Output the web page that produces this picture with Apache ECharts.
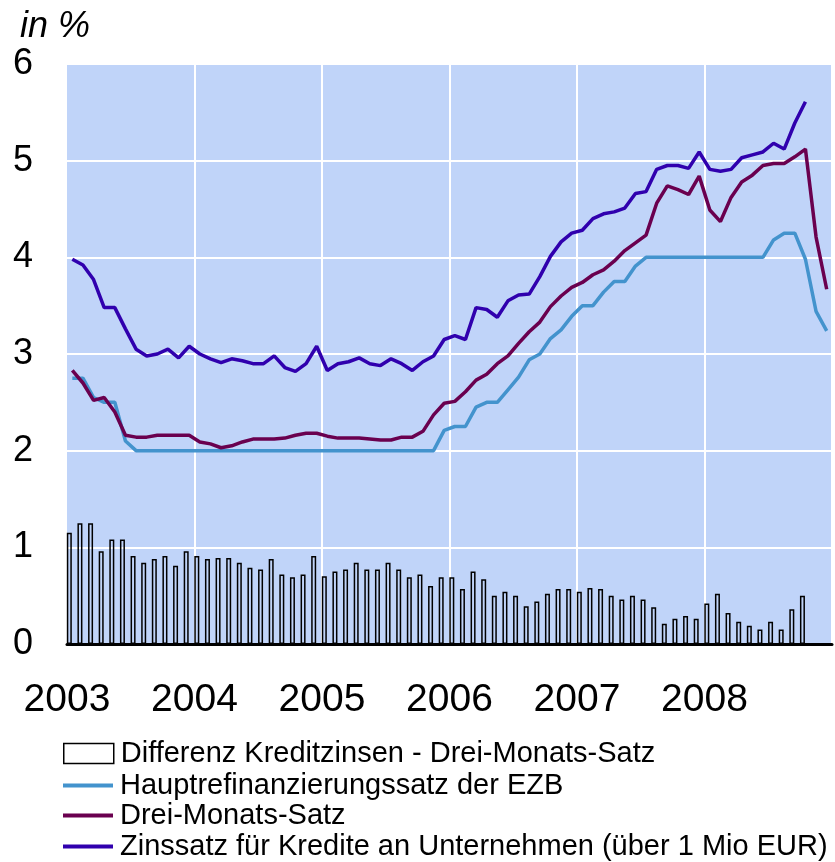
<!DOCTYPE html>
<html>
<head>
<meta charset="utf-8">
<script src="https://cdn.jsdelivr.net/npm/echarts@6/dist/echarts.min.js"></script>
<style>
  html, body { margin: 0; padding: 0; background: #fff; }
  #chart { width: 835px; height: 862px; }
</style>
</head>
<body>
<div id="chart"></div>
<script>
// Monatswerte Jan 2003 - Dez 2008
var years = ['2003', '2004', '2005', '2006', '2007', '2008'];
var yTicks = ['0', '1', '2', '3', '4', '5', '6'];

// Differenz Kreditzinsen - Drei-Monats-Satz (bis Okt 2008)
var spread = [1.15, 1.25, 1.25, 0.96, 1.08, 1.08, 0.91, 0.84, 0.88, 0.91, 0.81, 0.96,
    0.91, 0.88, 0.89, 0.89, 0.84, 0.79, 0.77, 0.88, 0.72, 0.69, 0.72, 0.91,
    0.70, 0.75, 0.77, 0.84, 0.77, 0.77, 0.84, 0.77, 0.69, 0.72, 0.60, 0.69,
    0.69, 0.57, 0.75, 0.67, 0.50, 0.54, 0.50, 0.39, 0.44, 0.52, 0.57, 0.57,
    0.54, 0.58, 0.57, 0.50, 0.46, 0.50, 0.46, 0.38, 0.21, 0.26, 0.29, 0.26,
    0.42, 0.52, 0.32, 0.23, 0.19, 0.15, 0.23, 0.15, 0.36, 0.50];

// Hauptrefinanzierungssatz der EZB
var ecbRate = [2.75, 2.75, 2.55, 2.50, 2.50, 2.10,
    2.00, 2.00, 2.00, 2.00, 2.00, 2.00, 2.00, 2.00, 2.00, 2.00, 2.00, 2.00,
    2.00, 2.00, 2.00, 2.00, 2.00, 2.00, 2.00, 2.00, 2.00, 2.00, 2.00, 2.00,
    2.00, 2.00, 2.00, 2.00, 2.00,
    2.21, 2.25, 2.25, 2.45, 2.50, 2.50, 2.63, 2.76, 2.94, 3.00, 3.16, 3.25,
    3.39, 3.50, 3.50, 3.64, 3.75, 3.75, 3.91,
    4.00, 4.00, 4.00, 4.00, 4.00, 4.00, 4.00, 4.00, 4.00, 4.00, 4.00, 4.00,
    4.18, 4.25, 4.25, 3.98, 3.44, 3.24];

// Drei-Monats-Satz
var threeMonth = [2.83, 2.70, 2.52, 2.55, 2.40, 2.16, 2.14, 2.14, 2.16, 2.16, 2.16, 2.16,
    2.09, 2.07, 2.03, 2.05, 2.09, 2.12,
    2.12, 2.12, 2.13, 2.16, 2.18, 2.18, 2.15, 2.13, 2.13, 2.13, 2.12, 2.11,
    2.11, 2.14, 2.14, 2.20, 2.37, 2.49, 2.51, 2.61,
    2.73, 2.79, 2.90, 2.98, 3.11, 3.23, 3.33, 3.49, 3.60, 3.69, 3.74, 3.82,
    3.87, 3.96, 4.07, 4.15,
    4.23, 4.56, 4.74, 4.70, 4.65, 4.84, 4.49, 4.37, 4.62, 4.78, 4.85, 4.95,
    4.97, 4.97, 5.04, 5.12, 4.21, 3.67];

// Zinssatz für Kredite an Unternehmen (über 1 Mio EUR), bis Okt 2008
var loanRate = [3.98, 3.92, 3.77, 3.48, 3.48, 3.26, 3.05, 2.98, 3.00, 3.05, 2.96, 3.08,
    3.00, 2.95, 2.91, 2.95, 2.93, 2.90,
    2.90, 2.98, 2.86, 2.82, 2.90, 3.08, 2.83, 2.90, 2.92, 2.96, 2.90, 2.88,
    2.95, 2.90, 2.83, 2.92, 2.98, 3.15, 3.19, 3.15,
    3.48, 3.46, 3.38, 3.55, 3.61, 3.62, 3.80, 4.01, 4.16, 4.25, 4.28, 4.40,
    4.45, 4.47, 4.51, 4.66,
    4.68, 4.91, 4.95, 4.95, 4.92, 5.09, 4.91, 4.89, 4.91, 5.03, 5.06, 5.09,
    5.18, 5.12, 5.39, 5.61];

var months = [];
for (var y = 0; y < years.length; y++) {
    for (var m = 1; m <= 12; m++) {
        months.push(years[y] + '-' + (m < 10 ? '0' + m : m));
    }
}

var FONT = 'Liberation Sans, Arial, sans-serif';
var names = ['Differenz Kreditzinsen - Drei-Monats-Satz', 'Hauptrefinanzierungssatz der EZB',
    'Drei-Monats-Satz', 'Zinssatz für Kredite an Unternehmen (über 1 Mio EUR)'];
var colors = ['#4393CD', '#6A004F', '#3000AE'];

// eine Legende pro Zeile, damit nichts umbricht
function legendRow(top, item, iconHeight) {
    return {
        left: 58,
        top: top,
        itemWidth: 50,
        itemHeight: iconHeight,
        icon: 'rect',
        selectedMode: false,
        textStyle: {fontFamily: FONT, fontSize: 29, lineHeight: 29, color: '#000', padding: [0, 0, 0, 2]},
        data: [item]
    };
}

var chart = echarts.init(document.getElementById('chart'));
var option = {
    animation: false,
    title: {
        text: 'in %',
        left: 15,
        top: 4,
        textStyle: {fontFamily: FONT, fontSize: 36, fontStyle: 'italic', fontWeight: 'normal', color: '#000'}
    },
    grid: {
        left: 67,
        top: 64,
        width: 774,
        height: 580,
        show: true,
        backgroundColor: '#C0D4F9',
        borderWidth: 0
    },
    legend: [
        legendRow(734, {name: names[0], itemStyle: {color: '#fff', borderColor: '#000', borderWidth: 1.5}}, 20),
        legendRow(766, names[1], 4),
        legendRow(796, names[2], 4),
        legendRow(827, names[3], 4)
    ],
    xAxis: [{
        // Monatskategorien (für die Daten)
        type: 'category',
        position: 'top',
        data: months,
        boundaryGap: true,
        axisLine: {show: false},
        axisTick: {show: false},
        axisLabel: {show: false},
        splitLine: {show: false}
    }, {
        // Jahresachse mit Gitterlinien
        type: 'value',
        position: 'bottom',
        min: 0,
        max: 72,
        interval: 12,
        axisLine: {show: true, lineStyle: {color: '#000', width: 3}},
        axisTick: {show: false},
        axisLabel: {
            fontFamily: FONT, fontSize: 39, color: '#000', margin: 37,
            formatter: function (v) {
                return years[v / 12] || '';
            }
        },
        splitLine: {show: true, showMinLine: false, lineStyle: {color: '#fff', width: 2}}
    }],
    yAxis: {
        type: 'value',
        min: 0,
        max: 6,
        interval: 1,
        axisLine: {show: false},
        axisTick: {show: false},
        axisLabel: {
            fontFamily: FONT, fontSize: 36, color: '#000', margin: 34,
            formatter: function (v) {
                return yTicks[v];
            }
        },
        splitLine: {show: true, lineStyle: {color: '#fff', width: 2}}
    },
    series: [{
        name: names[0],
        type: 'bar',
        xAxisIndex: 0,
        barWidth: 5,
        barGap: '20%',
        itemStyle: {color: 'rgba(0,0,0,0)', borderColor: '#000', borderWidth: 1.5},
        data: spread
    }, {
        // Platzhalter, damit die Säulen leicht links der Monatsmitte stehen
        name: 'placeholder',
        type: 'bar',
        xAxisIndex: 0,
        barWidth: 5,
        barGap: '20%',
        data: []
    }, {
        name: names[1],
        type: 'line',
        xAxisIndex: 0,
        symbol: 'none',
        itemStyle: {color: colors[0]},
        lineStyle: {color: colors[0], width: 3.5},
        data: ecbRate
    }, {
        name: names[2],
        type: 'line',
        xAxisIndex: 0,
        symbol: 'none',
        itemStyle: {color: colors[1]},
        lineStyle: {color: colors[1], width: 3.5},
        data: threeMonth
    }, {
        name: names[3],
        type: 'line',
        xAxisIndex: 0,
        symbol: 'none',
        itemStyle: {color: colors[2]},
        lineStyle: {color: colors[2], width: 3.5},
        data: loanRate
    }]
};
chart.setOption(option);
</script>
</body>
</html>
